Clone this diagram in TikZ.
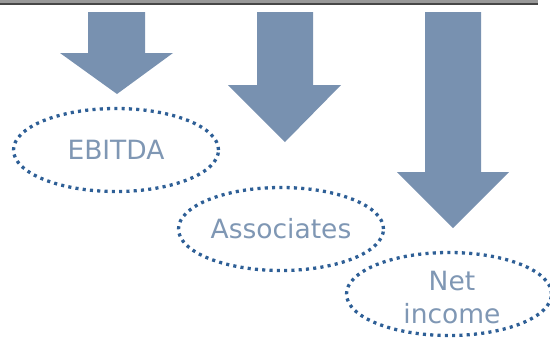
\documentclass[tikz,border=0pt]{standalone}
\usepackage{fontspec}
\setmainfont{DejaVu Sans}
\usetikzlibrary{shapes.geometric}

\definecolor{arrowblue}{HTML}{7891B0}
\definecolor{dotblue}{HTML}{2E5F96}
\definecolor{textblue}{HTML}{7F97B4}

\tikzset{
  bigarrow/.style={fill=arrowblue, draw=none},
  ringtext/.style={text=textblue, font=\fontsize{26.5}{33}\selectfont, align=center},
  dotring/.style={ellipse, draw=dotblue, line width=3.3pt,
    dash pattern=on 3.1pt off 4.2pt, minimum width=205pt, minimum height=83pt,
    inner sep=0pt, ringtext}
}

\begin{document}
\begin{tikzpicture}[x=1pt, y=-1pt]
\useasboundingbox (0,0) rectangle (550,338);

\fill [black!40] (0,0) rectangle (538,3);
\fill [black!72] (0,3) rectangle (538,5);

\fill [bigarrow] (88,12) -- (145,12) -- (145,53) -- (173,53) -- (117,94) -- (60,53) -- (88,53) -- cycle;
\fill [bigarrow] (257,12) -- (313,12) -- (313,85) -- (341,85) -- (285,142) -- (228,85) -- (257,85) -- cycle;
\fill [bigarrow] (425,12) -- (481,12) -- (481,172) -- (509,172) -- (453,228) -- (397,172) -- (425,172) -- cycle;

\node [dotring] (ebitda) at (116,150) {EBITDA};
\node [dotring] (assoc) at (281,229) {Associates};
\node [dotring] (netinc) at (449,294) {};
\node [ringtext] (nettext) at ([xshift=3pt, yshift=-4pt]netinc.center) {Net\\income};

\end{tikzpicture}
\end{document}
